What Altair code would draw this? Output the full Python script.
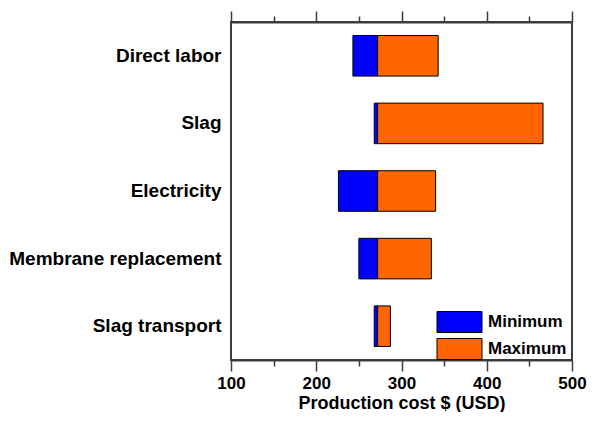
import altair as alt
import pandas as pd

categories = ["Direct labor", "Slag", "Electricity", "Membrane replacement", "Slag transport"]
base_cost = 272
min_cost = [243, 268, 226, 250, 268]
max_cost = [343, 466, 340, 335, 287]
major_ticks = [100, 200, 300, 400, 500]
minor_ticks = [150, 250, 350, 450]

rows = []
for c, lo, hi in zip(categories, min_cost, max_cost):
    rows.append({"factor": c, "case": "Minimum", "start": lo, "end": base_cost})
    rows.append({"factor": c, "case": "Maximum", "start": base_cost, "end": hi})
df = pd.DataFrame(rows)

FONT = "Liberation Sans"
AX = "#3c3c3c"

xscale = alt.Scale(domain=[100, 500], nice=False, zero=False)
yenc = alt.Y(
    "factor:N",
    sort=categories,
    scale=alt.Scale(paddingInner=0.4, paddingOuter=0.2),
    axis=alt.Axis(
        title=None, ticks=False, domain=False,
        labelFontSize=19, labelFont=FONT, labelFontWeight="bold",
        labelColor="black", labelPadding=10, labelLimit=400,
    ),
)


def xaxis(orient, values, size, labels, domain, title=None):
    kw = dict(
        orient=orient, values=values, tickSize=size, tickColor=AX, tickWidth=1.5,
        labels=labels, domain=domain, domainColor=AX, domainWidth=2,
        grid=False, labelOverlap=False, labelFlush=False,
    )
    if labels:
        kw.update(labelFontSize=17, labelFont=FONT, labelFontWeight="bold",
                  labelColor="black", labelPadding=4)
    if title:
        kw.update(title=title, titleFontSize=18, titleFont=FONT, titleFontWeight="bold",
                  titleColor="black", titlePadding=3)
    else:
        kw.update(title=None)
    return alt.Axis(**kw)


legend = alt.Legend(
    title=None, orient="none", legendX=217.5, legendY=289, padding=0,
    symbolType="M-2.143,-1H2.143V1H-2.143Z", symbolSize=441,
    symbolStrokeColor="black", symbolStrokeWidth=1, symbolOpacity=1,
    labelFontSize=17, labelFont=FONT, labelFontWeight="bold", labelColor="black",
    labelOffset=17.5, rowPadding=1,
)

bars = alt.Chart(df).mark_bar(stroke="black", strokeWidth=1).encode(
    x=alt.X("start:Q", scale=xscale,
            axis=xaxis("bottom", major_ticks, 11, True, True, "Production cost $ (USD)")),
    x2="end:Q",
    y=yenc,
    color=alt.Color("case:N",
                    scale=alt.Scale(domain=["Minimum", "Maximum"], range=["#0000FF", "#FF6600"]),
                    legend=legend),
)


def ghost(orient, values, size, domain):
    return alt.Chart(df).mark_bar(opacity=0).encode(
        x=alt.X("start:Q", scale=xscale, axis=xaxis(orient, values, size, False, domain)),
        x2="end:Q",
        y=yenc,
    )


chart = alt.layer(
    bars,
    ghost("bottom", minor_ticks, 6, False),
    ghost("top", major_ticks, 11, True),
    ghost("top", minor_ticks, 6, False),
).resolve_axis(x="independent").properties(
    width=341, height=338, padding={"left": 0, "top": 2, "right": 0, "bottom": 0}
).configure_view(stroke=AX, strokeWidth=2)

chart.save("out.html", embed_options={"renderer": "svg", "actions": False})
